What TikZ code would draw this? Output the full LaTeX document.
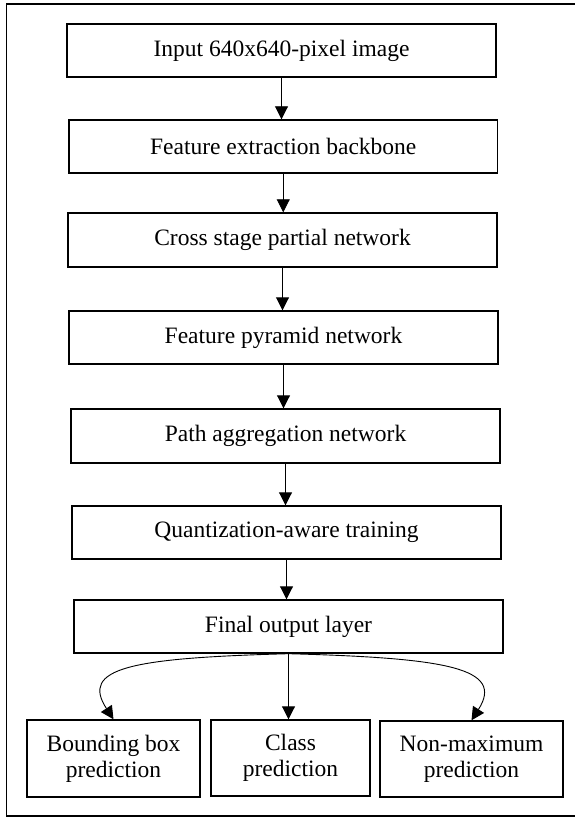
\documentclass[tikz,border=0pt]{standalone}
\usepackage{fontspec}
\setmainfont{Liberation Serif}
\usetikzlibrary{arrows.meta}
\begin{document}
\begin{tikzpicture}[x=1pt,y=-1pt,
  box/.style={draw, line width=1.4pt, inner sep=0pt, align=center,
    font=\fontsize{23.5}{26}\selectfont},
  conn/.style={line width=0.9pt, -{Triangle[length=13pt,width=13pt]}},
]
\useasboundingbox (0,0) rectangle (574,818);
\draw[line width=1.8pt] (580,4) -- (6.5,4) -- (6.5,816) -- (580,816);

\node[box, minimum width=429pt, minimum height=53pt] (n1) at (281.5,50.5) {Input 640x640-pixel image};
\node[box, minimum width=428.5pt, minimum height=53pt] (n2) at (283.25,146.5) {Feature extraction backbone};
\node[box, minimum width=429pt, minimum height=54pt] (n3) at (282.5,240) {Cross stage partial network};
\node[box, minimum width=429pt, minimum height=53pt] (n4) at (283.5,337.5) {Feature pyramid network};
\node[box, minimum width=429pt, minimum height=54pt] (n5) at (285.5,436) {Path aggregation network};
\node[box, minimum width=429pt, minimum height=53pt] (n6) at (286.5,532.5) {Quantization-aware training};
\node[box, minimum width=429pt, minimum height=53pt] (n7) at (288.5,626.5) {Final output layer};

\node[box, minimum width=173pt, minimum height=77pt] (bb) at (113.5,758.5) {Bounding box\\prediction};
\node[box, minimum width=159pt, minimum height=76pt] (cls) at (290.5,758) {Class\\prediction};
\node[box, minimum width=183pt, minimum height=76pt] (nms) at (471.5,759) {Non-maximum\\prediction};

\draw[conn] (n1.south) -- (n1.south |- n2.north);
\draw[conn] (n2.south) -- (n2.south |- n3.north);
\draw[conn] (n3.south) -- (n3.south |- n4.north);
\draw[conn] (n4.south) -- (n4.south |- n5.north);
\draw[conn] (n5.south) -- (n5.south |- n6.north);
\draw[conn] (n6.south) -- (n6.south |- n7.north);

\draw[conn] (n7.south) .. controls (130,658) and (80,668) .. (bb.north);
\draw[conn] (n7.south) -- (n7.south |- cls.north);
\draw[conn] (n7.south) .. controls (447,658) and (505,668) .. (nms.north);
\end{tikzpicture}
\end{document}
